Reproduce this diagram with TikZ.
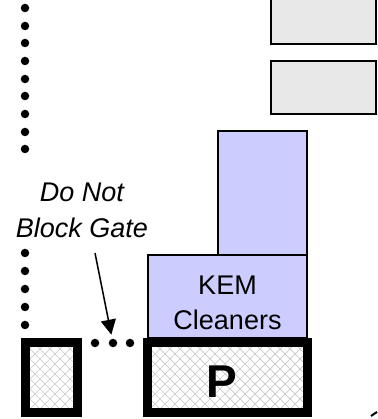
\documentclass[tikz,border=0pt]{standalone}
\usepackage{fontspec}
\setmainfont{Liberation Sans}
\usetikzlibrary{arrows.meta}
\definecolor{lav}{HTML}{CCCCFF}
\definecolor{lgray}{HTML}{E8E8E8}
\definecolor{hatch}{HTML}{C8C8C8}
\tikzset{
  dotmark/.style={fill=black,circle,inner sep=0pt,minimum size=8.5pt},
  gatebox/.style={draw=black,line width=9pt},
  lavbox/.style={draw=black,fill=lav,line width=1.5pt},
  graybox/.style={draw=black,fill=lgray,line width=2pt},
  labeltext/.style={font=\fontsize{27}{36}\selectfont\itshape,align=center,inner sep=0pt},
  boxtext/.style={font=\fontsize{27}{35}\selectfont,align=center,inner sep=0pt},
  ptext/.style={font=\fontsize{46}{46}\selectfont\bfseries,inner sep=0pt},
  arrowline/.style={line width=1.5pt,-{Triangle[length=15pt,width=15pt]}}
}
\newcommand{\hatchfill}[4]{%
  \begin{scope}
    \clip (#1,#2) rectangle (#3,#4);
    \foreach \k in {-200,-190,...,400}{
      \draw[hatch,line width=0.7pt] (\k,0) -- ++(120,120);
      \draw[hatch,line width=0.7pt] (\k,0) -- ++(-120,120);
    }
  \end{scope}}
\begin{document}
\begin{tikzpicture}[x=1pt,y=1pt]
\useasboundingbox (0,0) rectangle (377,419);
\fill[white] (0,0) rectangle (377,419);
% gray boxes (top right)
\node[graybox,minimum width=105pt,minimum height=53pt,inner sep=0pt] (g1) at (323.5,401.5) {};
\node[graybox,minimum width=105pt,minimum height=53pt,inner sep=0pt] (g2) at (323.5,331.5) {};
% lavender boxes
\node[lavbox,minimum width=89pt,minimum height=124pt,inner sep=0pt] (tall) at (262.5,226) {};
\node[lavbox,minimum width=159pt,minimum height=83pt,inner sep=0pt] (kem) at (227.5,122.5) {};
\node[boxtext] (kemtext) at (227.5,116.5) {KEM\\Cleaners};
% hatched gate boxes
\hatchfill{25.5}{6.5}{77.5}{76.5}
\hatchfill{147.5}{6.5}{307.5}{76.5}
\node[gatebox,minimum width=52pt,minimum height=70pt,inner sep=0pt] (gate) at (51.5,41.5) {};
\node[gatebox,minimum width=160pt,minimum height=70pt,inner sep=0pt] (pbox) at (227.5,41.5) {};
\node[ptext] (ptxt) at (222,37.5) {P};
% dotted lines
\foreach \y [count=\i] in {8,26,43,61,79,96,114,132,149}{
  \node[dotmark] (ua\i) at (25,419-\y) {};
}
\foreach \y [count=\i] in {253,271,289,307,325}{
  \node[dotmark] (la\i) at (25,419-\y) {};
}
\node[dotmark] (h1) at (95,76) {};
\node[dotmark] (h2) at (113,76) {};
\node[dotmark] (h3) at (130,76) {};
% label and arrow
\node[labeltext] (note) at (82,209) {Do Not\\Block Gate};
\coordinate (astart) at (95,166);
\draw[arrowline,shorten >=4pt] (astart) -- (h2);
% corner fragment
\coordinate (c1) at (371,3);
\coordinate (c2) at (377,7);
\draw[line width=2pt] (c1) -- (c2);
\end{tikzpicture}
\end{document}
